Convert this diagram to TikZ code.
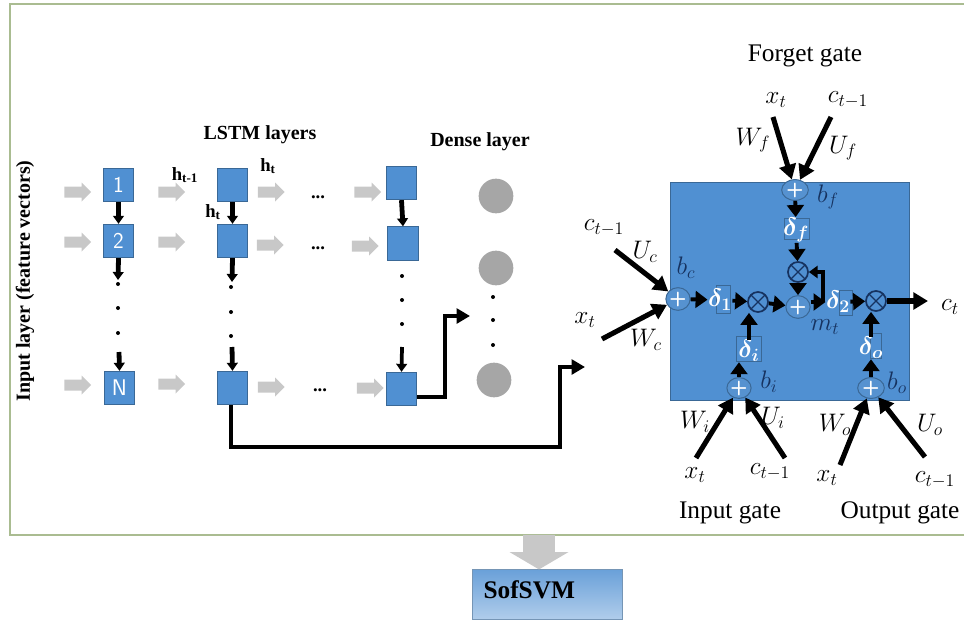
\RequirePackage{fix-cm}
\documentclass[tikz,border=0pt]{standalone}
\usepackage{fontspec}
\setmainfont{Liberation Serif}
\usetikzlibrary{arrows.meta,shapes.arrows,shapes.geometric}
\definecolor{boxblue}{RGB}{80,144,210}
\definecolor{boxedge}{RGB}{58,104,150}
\definecolor{plusblue}{RGB}{86,146,208}
\definecolor{navy}{RGB}{22,50,95}
\definecolor{framegreen}{RGB}{170,188,145}
\definecolor{softgrey}{RGB}{200,200,200}
\definecolor{dotgrey}{RGB}{166,166,166}
\tikzset{every picture/.style={line width=0.75pt},
  cell/.style={draw=boxedge,fill=boxblue,minimum width=23pt,minimum height=25pt,inner sep=0pt,text=white,font=\fontsize{17}{20}\selectfont\sffamily},
  greyarrow/.style={single arrow,fill=softgrey,draw=none,minimum height=20pt,inner xsep=0pt,inner ysep=3.75pt,single arrow head extend=3pt},
  dense/.style={circle,fill=dotgrey,minimum size=26pt,inner sep=0pt},
  dotmark/.style={circle,fill=black,minimum size=3pt,inner sep=0pt},
  flow/.style={line width=3.5pt,-{Triangle[length=10pt,width=11pt]}},
  input flow/.style={line width=3.8pt,-{Triangle[length=11pt,width=12.5pt]}},
  small flow/.style={line width=2.9pt,-{Triangle[length=9pt,width=12.5pt]}},
  down flow/.style={line width=3.6pt,-{Triangle[length=6pt,width=8pt]}},
  plusnode/.style={ellipse,draw=boxedge,fill=plusblue,minimum height=17pt,inner sep=0pt,text=white,font=\bfseries\fontsize{15}{15}\selectfont\sffamily},
  crossnode/.style={circle,draw=navy,line width=1.3pt,inner sep=0pt,minimum size=15pt,path picture={\draw [navy,line width=0.9pt] (path picture bounding box.north west) -- (path picture bounding box.south east) (path picture bounding box.north east) -- (path picture bounding box.south west);}},
  deltabox/.style={draw=boxedge,line width=0.5pt,inner sep=0pt},
  deltanode/.style={inner sep=0pt,text=white,font=\fontsize{19}{22}\selectfont\boldmath},
  mathnode/.style={inner sep=0pt,font=\fontsize{19}{22}\selectfont},
  titlenode/.style={inner sep=0pt,font=\fontsize{19}{22}\selectfont},
  headnode/.style={inner sep=0pt,font=\bfseries\fontsize{15}{18}\selectfont},
  hnode/.style={inner sep=0pt,font=\bfseries\fontsize{14}{16}\selectfont}
}

\begin{document}
\begin{tikzpicture}[x=0.75pt,y=0.75pt,yscale=-1,xscale=1]
\useasboundingbox (0,0) rectangle (964,621);

%Shape: Frame
\draw [draw=framegreen,line width=1.1pt] (964,4) -- (10,4) -- (10,535) -- (964,535);
%Shape: Gate box
\node [draw=boxedge,fill=boxblue,minimum width=179pt,minimum height=163pt,inner sep=0pt] (gatebox) at (790,291.5) {};

% Input row cells
\node [cell] (c11) at (118.5,185) {1};
\node [cell] (c21) at (118.5,241) {2};
\node [cell] (c31) at (119.5,388) {N};
\node [cell] (c12) at (232.5,185) {};
\node [cell] (c22) at (232.5,241) {};
\node [cell] (c32) at (232.5,388) {};
\node [cell] (c13) at (401.5,183) {};
\node [cell] (c23) at (403,243.5) {};
\node [cell] (c33) at (401.5,389) {};

% Dense units
\node [dense] (u1) at (496,196) {};
\node [dense] (u2) at (496,268) {};
\node [dense] (u3) at (494,380) {};

%Grey arrows
\node [greyarrow] (g11) at (75,192) {};
\node [greyarrow] (g12) at (169,192) {};
\node [greyarrow] (g13) at (268.5,192) {};
\node [greyarrow] (g14) at (365,192) {};
\node [greyarrow] (g21) at (75,242) {};
\node [greyarrow] (g22) at (169,242) {};
\node [greyarrow] (g23) at (267.5,245) {};
\node [greyarrow] (g24) at (362.5,246) {};
\node [greyarrow] (g31) at (75,385) {};
\node [greyarrow] (g32) at (169,384) {};
\node [greyarrow] (g33) at (268.5,387) {};
\node [greyarrow] (g34) at (367.5,388) {};

%Dots
\node [dotmark] (p11) at (118,284) {};
\node [dotmark] (p12) at (118,308) {};
\node [dotmark] (p13) at (118,333) {};
\node [dotmark] (p21) at (231,287) {};
\node [dotmark] (p22) at (231,312) {};
\node [dotmark] (p23) at (231,336) {};
\node [dotmark] (p31) at (402,276) {};
\node [dotmark] (p32) at (402,300) {};
\node [dotmark] (p33) at (402,324) {};
\node [dotmark] (p41) at (493,297) {};
\node [dotmark] (p42) at (493,320) {};
\node [dotmark] (p43) at (493,345) {};

% Free ends of the connectors
\coordinate (n1) at (119,352);
\coordinate (n2) at (232,347);
\coordinate (n3) at (402,347);
\coordinate (e1) at (118,280);
\coordinate (e2) at (232,282);
\coordinate (o3) at (417,397);
\coordinate (o2) at (231,405);
\coordinate (up) at (470,316);
\coordinate (far) at (585,367);
\coordinate (xc) at (602,339);
\coordinate (cc) at (615,250);
\coordinate (xf) at (773,117);
\coordinate (cf) at (831,117);
\coordinate (xi) at (696,458);
\coordinate (ci) at (785,458);
\coordinate (xo) at (840,465);
\coordinate (co) at (925,457);
\coordinate (out) at (928,301);
\coordinate (fb) at (823,302);

%Straight Lines
\draw [down flow] (c11.south) -- (c21.north);
\draw [down flow] (c21.south) -- (e1);
\draw [down flow] (n1) -- (c31.north);
\draw [down flow] (c12.south) -- (c22.north);
\draw [down flow] (c22.south) -- (e2);
\draw [down flow] (n2) -- (c32.north);
\draw [down flow] (c13.south) -- (c23.north);
\draw [down flow,line width=2.8pt] (n3) -- (c33.north);

%Elbow lines
\draw [flow] (o3) -- (445,397) -- (445,316) -- (up);
\draw [flow] (o2) -- (231,447) -- (560,447) -- (560,367) -- (far);

%Gate nodes
\node [plusnode,minimum width=13pt] (bc) at (678,299) {+};
\node [plusnode,minimum width=20pt,minimum height=15pt] (bf) at (795,190) {+};
\node [plusnode,minimum width=18pt,minimum height=14pt] (bi) at (739,388) {+};
\node [plusnode,minimum width=20pt,minimum height=15pt] (bo) at (871,388) {+};
\node [plusnode,minimum width=15pt] (mt) at (798,307) {+};
\node [crossnode] (m1) at (758,302) {};
\node [crossnode] (m2) at (876,301) {};
\node [crossnode] (mf) at (798,272) {};

\node [deltabox,minimum width=10.5pt,minimum height=21pt] (b1) at (723,299) {};
\node [deltabox,minimum width=10pt,minimum height=19pt] (b2) at (846,303) {};
\node [deltabox,minimum width=19pt,minimum height=16pt] (bff) at (797,229) {};
\node [deltabox,minimum width=19pt,minimum height=19pt] (bii) at (749,349) {};
\node [deltabox,minimum width=8pt,minimum height=19pt] (boo) at (876,346) {};

\node [deltanode] (d1) at (720,300) {$\delta_1$};
\node [deltanode] (d2) at (838,302) {$\delta_2$};
\node [deltanode] (df) at (796,230) {$\delta_f$};
\node [deltanode] (di) at (749,351) {$\delta_i$};
\node [deltanode] (do) at (871,348) {$\delta_o$};

%Gate connectors
\draw [small flow] (bc) -- (d1);
\draw [small flow] (d1) -- (m1);
\draw [small flow] (m1) -- (mt);
\draw [small flow] (mt.east |- d2) -- (d2);
\draw [small flow] (d2) -- (m2);
\draw [input flow] (m2) -- (out);
\draw [small flow] (bi.north) -- (bi.north |- di.south);
\draw [small flow] (di.north) -- (di.north |- m1.south);
\draw [small flow] (bo.north) -- (bo.north |- do.south);
\draw [small flow] (do.north) -- (do.north |- m2.south);
\draw [small flow] (bf) -- (df);
\draw [small flow] (df) -- (mf);
\draw [small flow] (mf) -- (mt);
\draw [line width=2.3pt,-{Triangle[length=6.5pt,width=9pt]}] (fb) -- (823,272) -- (mf);

%Input lines
\draw [input flow] (cc) -- (bc);
\draw [input flow] (xc) -- (bc);
\draw [input flow] (xf) -- (bf);
\draw [input flow] (cf) -- (bf);
\draw [input flow] (xi) -- (bi);
\draw [input flow] (ci) -- (bi);
\draw [input flow] (xo) -- (bo);
\draw [input flow] (co) -- (bo);

% Text Node
\node [headnode] (lstm) at (260,135) {LSTM layers};
% Text Node
\node [headnode] (densehead) at (480,142) {Dense layer};
% Text Node
\node [inner sep=0pt,rotate=90,font=\bfseries\fontsize{15}{16}\selectfont] (inlayer) at (25,281) {Input layer (feature vectors)};
% Text Node
\node [hnode] (h0) at (185,175) {h\textsubscript{t-1}};
% Text Node
\node [hnode] (h1) at (268,166) {h\textsubscript{t}};
% Text Node
\node [hnode] (h2) at (213,212) {h\textsubscript{t}};
% Text Node
\node [hnode] (r1) at (318,197) {...};
\node [hnode] (r2) at (318,248) {...};
\node [hnode] (r3) at (320,390) {...};
% Text Node
\node [titlenode] (forget) at (805,56) {Forget gate};
\node [titlenode] (input) at (730,513) {Input gate};
\node [titlenode] (output) at (900,513) {Output gate};
% Text Node
\node [mathnode] (tx1) at (776,100) {$x_t$};
\node [mathnode] (tc1) at (848,100) {$c_{t-1}$};
\node [mathnode] (tw1) at (753,140) {$W_f$};
\node [mathnode] (tu1) at (843,148) {$U_f$};
\node [mathnode] (tc2) at (604,228) {$c_{t-1}$};
\node [mathnode] (tu2) at (645,252) {$U_c$};
\node [mathnode] (tx2) at (585,320) {$x_t$};
\node [mathnode] (tw2) at (646,340) {$W_c$};
\node [mathnode] (tw3) at (695,422) {$W_i$};
\node [mathnode] (tu3) at (773,418) {$U_i$};
\node [mathnode] (tx3) at (695,475) {$x_t$};
\node [mathnode] (tc3) at (770,472) {$c_{t-1}$};
\node [mathnode] (tw4) at (835,425) {$W_o$};
\node [mathnode] (tu4) at (930,425) {$U_o$};
\node [mathnode] (tx4) at (827,478) {$x_t$};
\node [mathnode] (tc4) at (935,480) {$c_{t-1}$};
\node [mathnode] (tct) at (950,307) {$c_t$};
% Text Node
\node [mathnode,text=navy] (tbc) at (686,268) {$b_c$};
\node [mathnode,text=navy] (tbf) at (828,197) {$b_f$};
\node [mathnode,text=navy] (tbi) at (769,382) {$b_i$};
\node [mathnode,text=navy] (tbo) at (897,383) {$b_o$};
\node [mathnode,text=navy] (tmt) at (825,327) {$m_t$};

% SVM block
\node [draw=boxedge!70,top color=boxblue!85,bottom color=boxblue!45,minimum width=112.5pt,minimum height=37pt,inner sep=0pt] (svm) at (547,594.5) {};
\node [inner sep=0pt,font=\bfseries\fontsize{19}{22}\selectfont,anchor=west] (svmtext) at (483,590) {SofSVM};
\node [single arrow,rotate=-90,fill=softgrey,draw=none,minimum height=26pt,inner xsep=0pt,inner ysep=11.5pt,single arrow head extend=10.25pt,single arrow tip angle=119,anchor=tip] (down) at (539,570) {};

\end{tikzpicture}
\end{document}
